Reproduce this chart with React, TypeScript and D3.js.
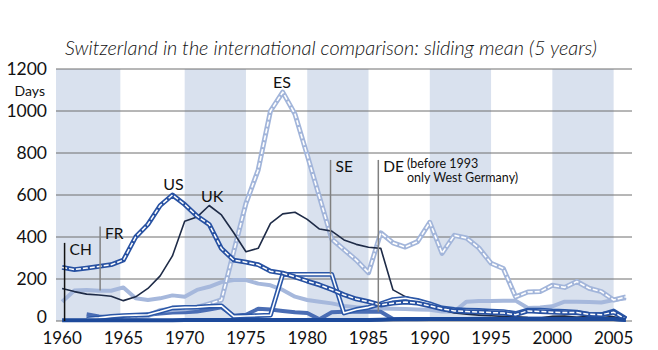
import React from "react";
import * as d3 from "d3";

const years: number[] = d3.range(1960, 2007);
const xTicks: number[] = [1960, 1965, 1970, 1975, 1980, 1985, 1990, 1995, 2000, 2005];
const yTicks: number[] = [0, 200, 400, 600, 800, 1000, 1200];
const bands: [number, number][] = [[1959.5, 1964.75], [1970, 1975], [1980, 1985], [1990, 1995], [2000, 2005]];

type V = number | null;
const US: V[] = [255, 245, 252, 260, 268, 290, 400, 460, 550, 600, 555, 500, 460, 345, 290, 280, 268, 237, 228, 210, 190, 172, 150, 125, 105, 92, 76, 85, 90, 85, 72, 58, 48, 45, 43, 40, 38, 30, 48, 45, 42, 40, 40, 32, 30, 42, 8];
const UK: V[] = [155, 140, 128, 124, 118, 97, 115, 155, 215, 310, 475, 495, 550, 505, 420, 330, 346, 465, 510, 518, 484, 438, 428, 386, 365, 351, 346, 148, 116, 100, 78, 52, 38, 32, 28, 25, 22, 20, 16, 14, 22, 24, 18, 22, 28, 20, 8];
const ES: V[] = [null, null, null, null, null, 18, 20, 25, 50, 55, 58, 65, 82, 100, 330, 560, 720, 1000, 1090, 985, 790, 590, 390, 340, 290, 230, 420, 372, 352, 378, 470, 322, 408, 395, 348, 275, 250, 115, 138, 140, 170, 160, 188, 156, 140, 100, 115];
const SE: V[] = [null, null, 10, 15, 22, 26, 28, 30, 45, 62, 65, 66, 70, 72, 22, 24, 26, 28, 222, 222, 222, 222, 222, 38, 55, 65, 82, 102, 108, 98, 82, 62, 55, 52, 50, 47, 45, 36, 52, 52, 48, 46, 42, 32, 30, 48, 12];
const DE: V[] = [null, null, 32, 22, 18, 20, 24, 30, 36, 40, 42, 45, 55, 65, 25, 30, 58, 55, 48, 42, 38, 8, 42, 44, 44, 44, 44, 10, 8, 8, 9, 10, 10, 10, 11, 11, 12, 12, 12, 12, 12, 12, 12, 12, 12, 10, 5];
const FR: V[] = [92, 145, 148, 144, 144, 160, 108, 100, 108, 122, 116, 148, 163, 185, 195, 195, 178, 170, 148, 116, 100, 92, 84, 72, 66, 62, 60, 58, 57, 55, 54, 45, 45, 92, 95, 95, 97, 97, 62, 64, 70, 92, 92, 90, 88, 100, 108];
const CH: V[] = [3, 3, 3, 3, 3, 3, 3, 3, 3, 4, 5, 5, 5, 5, 5, 5, 5, 5, 5, 5, 5, 5, 5, 5, 5, 5, 6, 8, 9, 10, 10, 10, 10, 10, 10, 10, 10, 10, 10, 10, 10, 10, 10, 10, 10, 10, 5];

const title = "Switzerland in the international comparison: sliding mean (5 years)";
const yUnit = "Days";

const pointers: { label: string; year: number; top: number; bottom: number; color: string }[] = [
  { label: "CH", year: 1960.2, top: 372, bottom: 0, color: "#111" },
  { label: "FR", year: 1963.1, top: 450, bottom: 145, color: "#808080" },
  { label: "SE", year: 1981.9, top: 767, bottom: 222, color: "#808080" },
  { label: "DE", year: 1985.8, top: 767, bottom: 44, color: "#808080" },
];

const W = 658;
const H = 350;

export default function App() {
  const x = d3.scaleLinear().domain([1959.5, 2006.5]).range([56, 632]);
  const y = d3.scaleLinear().domain([0, 1200]).range([321, 69]);
  const line = d3
    .line<V>()
    .defined((d) => d !== null)
    .x((_, i) => x(years[i]))
    .y((d) => y(d as number));

  const font = "Lato, 'Open Sans', sans-serif";

  const single = (data: V[], color: string, w: number, key: string) => (
    <path key={key} d={line(data) || ""} fill="none" stroke={color} strokeWidth={w} strokeLinejoin="round" strokeLinecap="butt" />
  );
  const dbl = (data: V[], color: string, w: number, inner: number, dash: string | undefined, key: string) => (
    <g key={key}>
      <path d={line(data) || ""} fill="none" stroke={color} strokeWidth={w} strokeLinejoin="round" />
      <path d={line(data) || ""} fill="none" stroke="#fff" strokeWidth={inner} strokeDasharray={dash} strokeLinejoin="round" />
    </g>
  );

  return (
    <svg width={W} height={H} style={{ position: "absolute", left: 0, top: 0, background: "#fff" }} fontFamily={font}>
      <rect width={W} height={H} fill="#fff" />
      <text x={65} y={55} fontSize={19} fontStyle="italic" fontWeight={300} fill="#111" textLength={532} lengthAdjust="spacingAndGlyphs">
        {title}
      </text>
      {bands.map(([a, b], i) => (
        <rect key={i} x={x(a)} y={y(1200)} width={x(b) - x(a)} height={y(0) - y(1200)} fill="#d9e1ee" />
      ))}
      {yTicks.map((t) => (
        <line key={t} x1={56} x2={632} y1={y(t)} y2={y(t)} stroke="#6e6e6e" strokeWidth={1} />
      ))}
      {yTicks.map((t) => (
        <text key={"l" + t} x={47} y={Math.min(y(t) + 6, 323)} fontSize={17.5} textAnchor="end" fill="#111">
          {t}
        </text>
      ))}
      <text x={45} y={96} fontSize={14} textAnchor="end" fill="#111">
        {yUnit}
      </text>
      {xTicks.map((t) => (
        <text key={"x" + t} x={x(t)} y={344} fontSize={17} textAnchor="middle" fill="#111">
          {t}
        </text>
      ))}

      {single(FR, "#a6b8dc", 4, "fr")}
      {single(DE, "#4a6db4", 4, "de")}
      {dbl(ES, "#a2b5da", 5, 1.6, "5 2", "es")}
      {single(UK, "#1e2b47", 1.6, "uk")}
      {dbl(SE, "#2b57a7", 4.8, 1.6, undefined, "se")}
      {dbl(US, "#2751a2", 4.8, 1.5, "5 2", "us")}
      {single(CH, "#1d4a9b", 4, "ch")}

      {pointers.map((p) => (
        <g key={p.label}>
          <line x1={x(p.year)} x2={x(p.year)} y1={y(p.top)} y2={y(p.bottom)} stroke={p.color} strokeWidth={1.5} />
          <text x={x(p.year) + 5} y={y(p.top) + 12.5} fontSize={15.5} fill="#111">
            {p.label}
          </text>
        </g>
      ))}
      <text x={407} y={168} fontSize={12.5} fill="#111">(before 1993</text>
      <text x={407} y={182} fontSize={12.5} fill="#111">only West Germany)</text>
      <text x={173.5} y={190} fontSize={16} textAnchor="middle" fill="#111">US</text>
      <text x={201} y={202} fontSize={16} fill="#111">UK</text>
      <text x={273} y={88} fontSize={16} fill="#111">ES</text>
    </svg>
  );
}
